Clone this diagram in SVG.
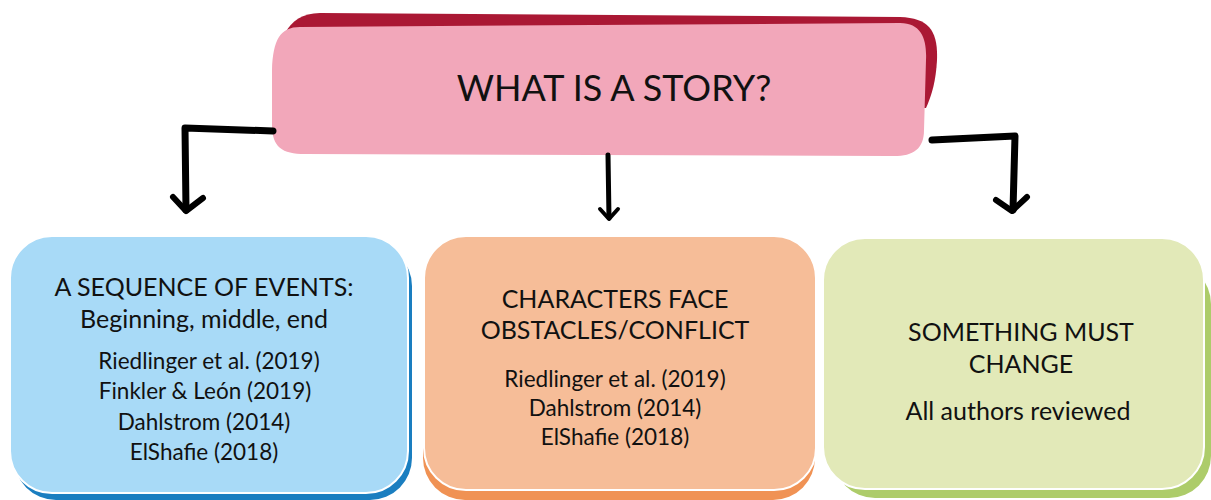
<svg xmlns="http://www.w3.org/2000/svg" width="1211" height="500" viewBox="0 0 1211 500">
<style>
text{font-family:Lato,"Open Sans","Liberation Sans",sans-serif;fill:#111;text-anchor:middle}
.h{font-size:25px}
.r{font-size:22.5px}
.arrow{fill:none;stroke:#000;stroke-linecap:round;stroke-linejoin:round}
</style>
<rect width="1211" height="500" fill="#fff"/>
<g id="node-top">
<path d="M276,95 C276,40 285,14 320,13 L900,17 C930,18 938,32 937,60 C936,80 932,95 926,108 L276,100 Z" fill="#AA1834"/>
<path d="M300,27 L900,23 C922,23 927,40 926,60 L924,130 C924,150 912,157 890,156 L305,154 C282,154 272,147 272,125 L272,70 C273,40 280,27 300,27 Z" fill="#F2A7BA"/>
<text x="614" y="101" style="font-size:36px">WHAT IS A STORY?</text>
</g>
<g id="connectors">
<path class="arrow" d="M273,131 L185,128 L186,210" stroke-width="7"/>
<path class="arrow" d="M173,197 L186,211 L203,198" stroke-width="6"/>
<path class="arrow" d="M608,155 L609,218" stroke-width="5"/>
<path class="arrow" d="M600,209 L609,219 L618,209" stroke-width="4"/>
<path class="arrow" d="M932,140 L1015,136 L1013,210" stroke-width="7"/>
<path class="arrow" d="M996,200 L1012,211 L1027,197" stroke-width="6"/>
</g>
<g id="node-sequence">
<rect x="14" y="244" width="398" height="256" rx="42" fill="#1A7EC0"/>
<rect x="10" y="236" width="398" height="257" rx="42" fill="#A8DAF7" stroke="#fff" stroke-width="2"/>
<text class="h" x="204" y="296">A SEQUENCE OF EVENTS:</text>
<text class="h" x="204" y="328">Beginning, middle, end</text>
<text class="r" x="209" y="369">Riedlinger et al. (2019)</text>
<text class="r" x="205" y="399">Finkler &amp; León (2019)</text>
<text class="r" x="204" y="430">Dahlstrom (2014)</text>
<text class="r" x="204" y="460">ElShafie (2018)</text>
</g>
<g id="node-conflict">
<rect x="423" y="246" width="392" height="254" rx="42" fill="#F09254"/>
<rect x="424" y="236" width="392" height="254" rx="42" fill="#F6BD98" stroke="#fff" stroke-width="2"/>
<text class="h" x="615" y="308">CHARACTERS FACE</text>
<text class="h" x="615" y="339">OBSTACLES/CONFLICT</text>
<text class="r" x="615" y="387">Riedlinger et al. (2019)</text>
<text class="r" x="615" y="416">Dahlstrom (2014)</text>
<text class="r" x="615" y="445">ElShafie (2018)</text>
</g>
<g id="node-change">
<rect x="833" y="262" width="378" height="236" rx="42" fill="#ADCC6A"/>
<rect x="823" y="238" width="381" height="251" rx="42" fill="#E2E9B8" stroke="#fff" stroke-width="2"/>
<text class="h" x="1021" y="341">SOMETHING MUST</text>
<text class="h" x="1021" y="373">CHANGE</text>
<text class="h" x="1018" y="420">All authors reviewed</text>
</g>
</svg>
